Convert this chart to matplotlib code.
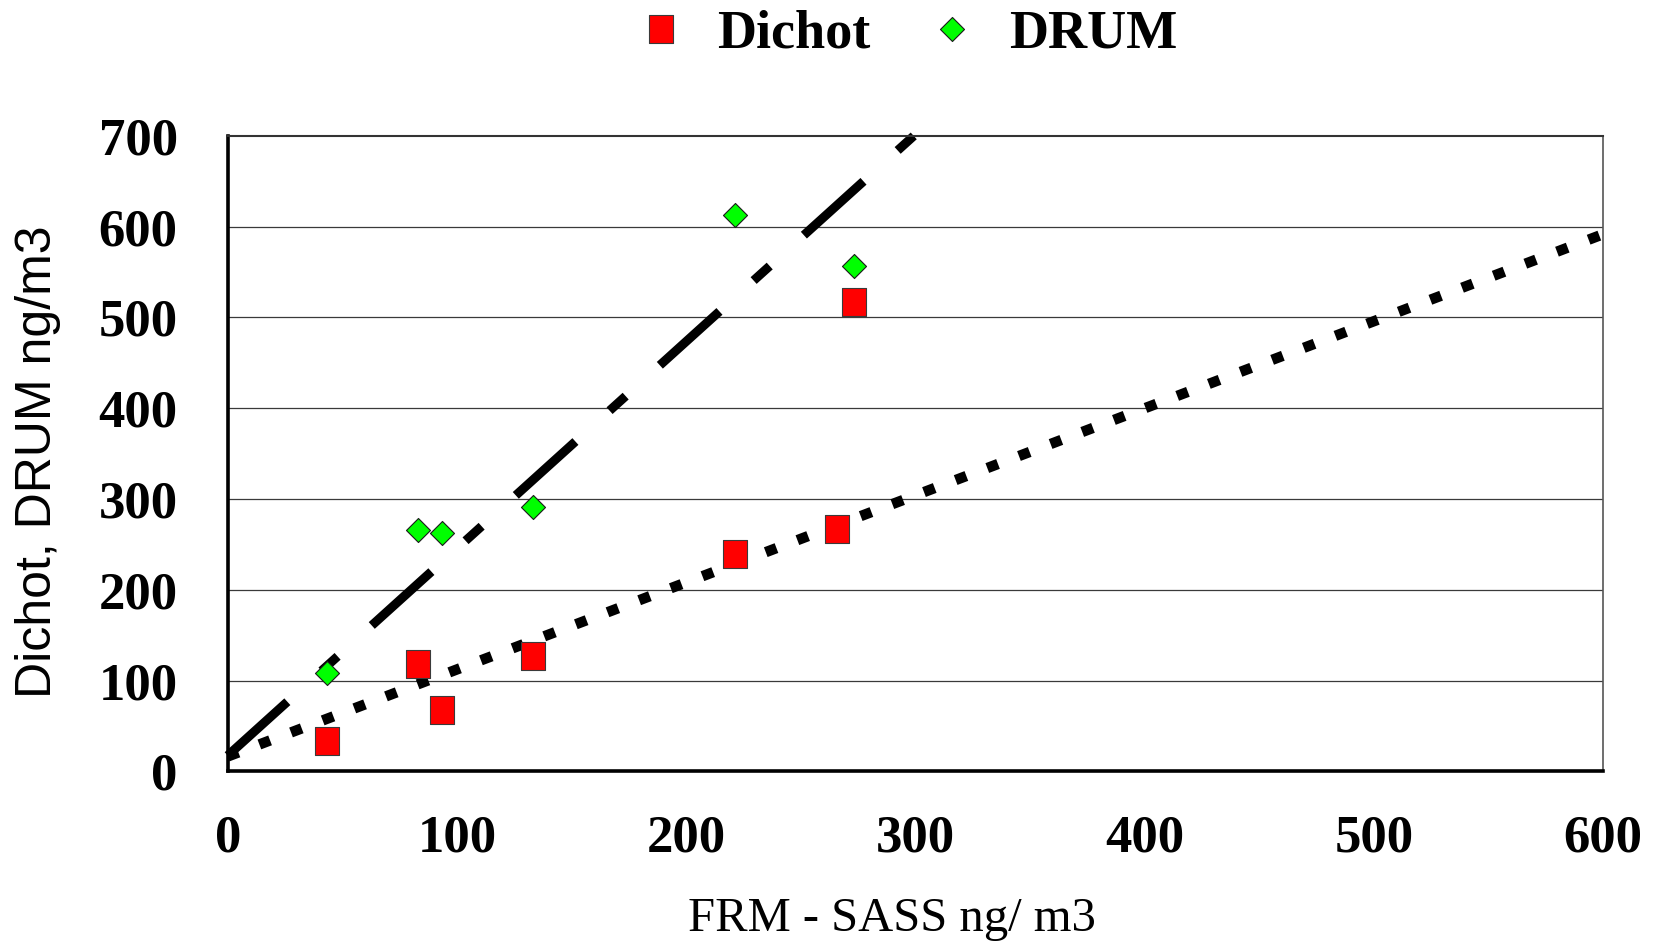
import numpy as np
import matplotlib
matplotlib.use("Agg")
import matplotlib.pyplot as plt
from matplotlib.path import Path


# data
frm_dichot = [43.3, 83.0, 93.5, 133.2, 221.4, 265.8, 273.3]
dichot = [33.9, 118.7, 67.7, 127.4, 239.4, 267.5, 516.5]

frm_drum = [43.2, 82.8, 93.4, 133.1, 221.4, 273.3]
drum = [108.8, 266.3, 262.3, 291.6, 612.8, 556.7]

# trend lines (end points)
drum_line_x = [0, 299.3]
drum_line_y = [17.5, 700]
dichot_line_x = [0, 600]
dichot_line_y = [16.5, 591.7]

x_ticks = [0, 100, 200, 300, 400, 500, 600]
y_ticks = [0, 100, 200, 300, 400, 500, 600, 700]

serif = "Liberation Serif"
sans = "Liberation Sans"

# markers: slightly tall rectangle and a diamond
rect_marker = Path([(-0.445, -0.5), (0.445, -0.5), (0.445, 0.5), (-0.445, 0.5), (-0.445, -0.5)],
                   [Path.MOVETO, Path.LINETO, Path.LINETO, Path.LINETO, Path.CLOSEPOLY])
diam_marker = Path([(0, -0.5), (0.5, 0), (0, 0.5), (-0.5, 0), (0, -0.5)],
                   [Path.MOVETO, Path.LINETO, Path.LINETO, Path.LINETO, Path.CLOSEPOLY])

fig = plt.figure(figsize=(16.61, 9.43), dpi=100)
ax = fig.add_axes([0.1371, 0.1819, 0.8280, 0.6740])

# gridlines
for yv in y_ticks[1:-1]:
    ax.axhline(yv, color="#3a3a3a", lw=0.9, zorder=1)

# trend lines
ax.plot(drum_line_x, drum_line_y, color="black", lw=6.5,
        dashes=(8.9, 5.1, 2.4, 5.1), dash_capstyle="butt", zorder=2, clip_on=False)
ax.plot(dichot_line_x, dichot_line_y, color="black", lw=7.5,
        dashes=(1.1, 2.15), dash_capstyle="butt", zorder=2, clip_on=False)

# points
ax.plot(frm_dichot, dichot, linestyle="none", marker=rect_marker, markersize=19.5,
        markerfacecolor="#ff0000", markeredgecolor="#3a3a3a", markeredgewidth=0.8,
        label="Dichot", zorder=3)
ax.plot(frm_drum, drum, linestyle="none", marker=diam_marker, markersize=17.3,
        markerfacecolor="#00ff00", markeredgecolor="#1a1a1a", markeredgewidth=0.8,
        label="DRUM", zorder=3)

ax.set_xlim(0, 600)
ax.set_ylim(0, 700)
ax.set_xticks(x_ticks)
ax.set_yticks(y_ticks)
ax.set_xticklabels([str(v) for v in x_ticks], fontfamily=serif, fontweight="bold", fontsize=38)
ax.set_yticklabels([str(v) for v in y_ticks], fontfamily=serif, fontweight="bold", fontsize=38)
ax.tick_params(axis="x", length=0, pad=31)
ax.tick_params(axis="y", length=0, pad=36)

ax.spines["left"].set_linewidth(2.6)
ax.spines["bottom"].set_linewidth(2.6)
ax.spines["top"].set_linewidth(1.5)
ax.spines["top"].set_color("#333333")
ax.spines["right"].set_linewidth(1.2)
ax.spines["right"].set_color("#555555")

ax.set_xlabel("FRM - SASS ng/ m3", fontfamily=serif, fontsize=35)
ax.xaxis.set_label_coords(0.483, -0.198)
ax.set_ylabel("Dichot, DRUM ng/m3", fontfamily=sans, fontsize=36)
ax.yaxis.set_label_coords(-0.121, 0.487)

fig.legend(loc="center", bbox_to_anchor=(0.545, 0.963), ncol=2, frameon=False,
           prop={"family": serif, "weight": "bold", "size": 39},
           handlelength=1.0, handletextpad=0.55, columnspacing=1.0)

fig.savefig("out.png", dpi=100)
